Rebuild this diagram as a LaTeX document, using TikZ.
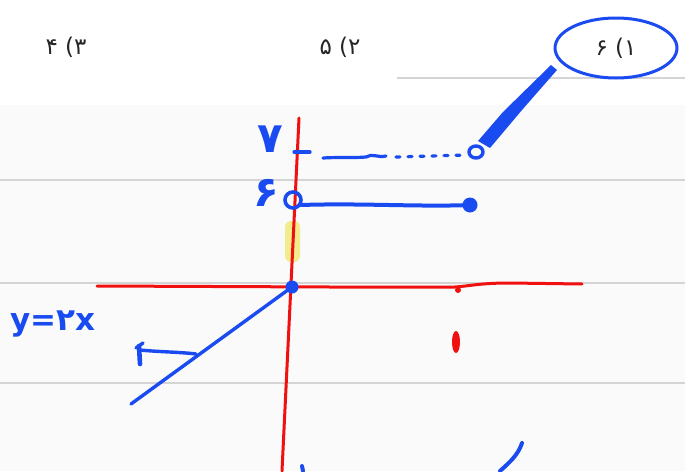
\documentclass[tikz,border=0pt]{standalone}
\usepackage{fontspec}
\newfontfamily\arabicfont[Script=Arabic]{DejaVu Sans}
\TeXXeTstate=1
\definecolor{penblue}{HTML}{1A4BF0}
\definecolor{penred}{HTML}{F01010}
\definecolor{rule}{HTML}{D4D4D4}
\definecolor{hilite}{HTML}{F2EC8C}
\tikzset{
  pen/.style={draw=penblue, line width=4pt, line cap=round, line join=round},
  redpen/.style={draw=penred, line width=3pt, line cap=round},
  ruleline/.style={draw=rule, line width=2.2pt},
  choice/.style={font=\arabicfont\fontsize{23}{23}\selectfont, text=black!85, inner sep=0pt},
  handlabel/.style={font=\arabicfont\bfseries\fontsize{42}{42}\selectfont, text=penblue, inner sep=0pt},
}
\begin{document}
\begin{tikzpicture}[x=1pt,y=-1pt]
\useasboundingbox (0,0) rectangle (685,471);
\fill[white] (0,0) rectangle (685,471);
\fill[black!2] (0,105) rectangle (685,471);
% ruled lines
\draw[ruleline] (397,78) -- (685,78);
\draw[ruleline] (0,180) -- (685,180);
\draw[ruleline] (0,283) -- (685,283);
\draw[ruleline] (0,383) -- (685,383);
% answer choices
\node[choice] (c3) at (66,47) {\beginR ۳) ۴\endR};
\node[choice] (c2) at (340,47) {\beginR ۲) ۵\endR};
\node[choice] (c1) at (616,48) {\beginR ۱) ۶\endR};
\draw[penblue, line width=3pt] (616,48) ellipse [x radius=61, y radius=30];
% highlight
\fill[hilite, rounded corners=6pt] (285,221) rectangle (300,262);
% red axes
\draw[redpen] (299,118) -- (282,471);
\draw[redpen] (97,286) -- (330,287) -- (455,287) .. controls (470,286) and (480,283) .. (510,283) -- (582,284);
\fill[penred] (458,290) circle (3);
\fill[penred] (456,342) ellipse [x radius=4, y radius=11];
% pen stroke from the oval
\fill[penblue] (551,65) -- (557,70) -- (522,110) -- (490,148) -- (478,141) -- (503,112) -- cycle;
\draw[pen, line width=3.4pt] (476,152) ellipse [x radius=7, y radius=6];
% dotted upper branch
\draw[pen, line width=3.2pt] (323,158) .. controls (340,157) and (355,158) .. (366,157)
  .. controls (372,153) and (378,158) .. (386,156);
\draw[pen, line width=3.2pt, dash pattern=on 4pt off 8pt] (396,157) -- (466,155);
\draw[pen, line width=3.2pt] (294,152) -- (310,152);
% labels on y-axis
\node[handlabel] (l7) at (270,139) {۷};
\node[handlabel] (l6) at (266,193) {۶};
% open circle and segment
\draw[pen, line width=3.6pt] (293,200) circle (8);
\draw[pen] (301,205) .. controls (360,203) and (420,207) .. (470,205);
\fill[penblue] (470,205) circle (7.5);
% origin dot and line y=2x
\fill[penblue] (292,287) circle (6.5);
\draw[pen, line width=3.4pt] (292,287) -- (131,404);
\node[font=\arabicfont\bfseries\fontsize{31}{31}\selectfont, text=penblue, inner sep=0pt] (eq) at (53,324) {y=۲x};
% slope mark
\draw[pen, line width=3.4pt] (140,350) .. controls (160,352) and (180,352) .. (196,354);
\draw[pen, line width=4.6pt] (139,346) -- (140,364);
\draw[pen, line width=3.4pt] (136,348) -- (143,343);
% bottom strokes
\draw[pen] (500,471) .. controls (510,462) and (518,455) .. (522,443);
\draw[pen] (302,466) -- (303,471);
\end{tikzpicture}
\end{document}
